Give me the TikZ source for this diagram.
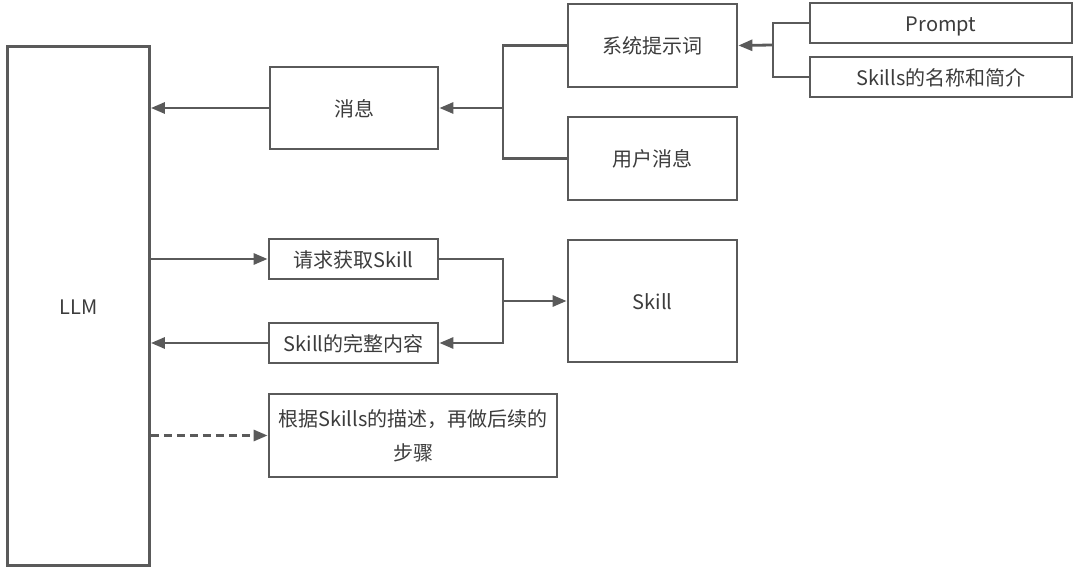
\documentclass[tikz,border=0pt]{standalone}
\usepackage{fontspec}
\setmainfont{Noto Sans CJK SC}
\usepackage{xcolor}
\usepackage{tikz}
\usetikzlibrary{positioning, arrows.meta, calc}

\definecolor{linegray}{HTML}{5A5A5A}
\definecolor{textgray}{HTML}{3C3C3C}

\begin{document}
\begin{tikzpicture}[x=1pt, y=-1pt,
    >={Triangle[length=14pt, width=11pt]},
    every node/.style={font=\fontsize{20}{34}\selectfont, text=textgray},
    box/.style={draw=linegray, line width=2.8pt, fill=white, inner sep=0pt,
      text height=18pt, text depth=1.4pt},
    conn/.style={draw=linegray, line width=2.8pt}]

  \useasboundingbox[fill=white] (0,0) rectangle (1080,569);

  \begin{scope}[every node/.append style={box}]
    \node[minimum width=142pt, minimum height=519pt] (llm) at (78.5,306) {LLM};
    \node[minimum width=168pt, minimum height=82pt] (msg) at (354,108) {消息};
    \node[minimum width=169pt, minimum height=83pt] (sys) at (652.5,45.5) {系统提示词};
    \node[minimum width=169pt, minimum height=83pt] (user) at (652.5,158.5) {用户消息};
    \node[minimum width=262pt, minimum height=40pt] (prompt) at (941,23) {Prompt};
    \node[minimum width=262pt, minimum height=40pt] (intro) at (941,77) {Skills的名称和简介};
    \node[minimum width=169pt, minimum height=40pt] (req) at (353.5,259) {请求获取Skill};
    \node[minimum width=169pt, minimum height=40pt] (full) at (353.5,343) {Skill的完整内容};
    \node[minimum width=169pt, minimum height=122pt] (skill) at (652.5,301) {Skill};
    \node[minimum width=288pt, minimum height=83pt, align=center,
      text height=, text depth=] (next) at (413,435.5)
      {根据Skills的描述，再做后续的\\步骤};
  \end{scope}

  \coordinate (jmsg) at (503,108);
  \coordinate (jsys) at (773,45);
  \coordinate (jskill) at (503,301);

  % messages
  \draw[conn] (sys.west) -| (user.west -| jmsg) -- (user.west);
  \draw[conn, ->] (jmsg) -- (msg.east);
  \draw[conn] (prompt.west) -| (intro.west -| jsys) -- (intro.west);
  \draw[conn, ->] (jsys) -- (sys.east);
  \draw[conn, ->] (msg.west) -- (msg.west -| llm.east);

  % skill loading
  \draw[conn, ->] (req.west -| llm.east) -- (req.west);
  \draw[conn, ->] (req.east) -| (full.east -| jskill) -- (full.east);
  \draw[conn, ->] (jskill) -- (skill.west);
  \draw[conn, ->] (full.west) -- (full.west -| llm.east);

  \draw[conn, ->, dash pattern=on 8pt off 5pt] (next.west -| llm.east) -- (next.west);
\end{tikzpicture}
\end{document}
